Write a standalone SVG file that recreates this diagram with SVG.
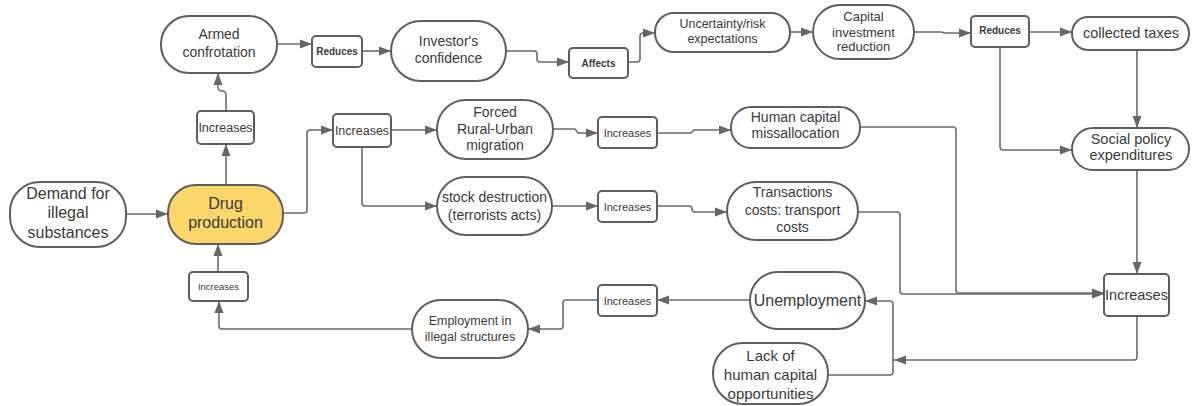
<svg xmlns="http://www.w3.org/2000/svg" width="1193" height="406" viewBox="0 0 1193 406">
<style>
.n{fill:#fff;stroke:#5e5e5e;stroke-width:2}
.y{fill:#FBD66A}
.t{font-family:"Liberation Sans",Arial,sans-serif;fill:#3a3a3a;text-anchor:middle}
.b{font-weight:bold}
.c{fill:none;stroke:#6b6b6b;stroke-width:1.6;marker-end:url(#a)}
</style>
<defs>
<marker id="a" viewBox="0 0 12 10" refX="12" refY="5" markerWidth="12" markerHeight="10" markerUnits="userSpaceOnUse" orient="auto">
<path d="M0,0.5 L12,5 L0,9.5 z" fill="#666"/>
</marker>
</defs>
<rect width="1193" height="406" fill="#fff"/>
<g id="connectors">
<path class="c" d="M126,214 H168"/>
<path class="c" d="M226,185 V144"/>
<path class="c" d="M226,111 V95 Q226,91 222,91 Q218,91 218,87 V73"/>
<path class="c" d="M277,44 H312"/>
<path class="c" d="M362,51 H391"/>
<path class="c" d="M506,51 H534 Q537,51 537,54 V59 Q537,62 540,62 H569"/>
<path class="c" d="M628,62 H637 Q640,62 640,59 V36 Q640,33 643,33 H655"/>
<path class="c" d="M790,32 H813"/>
<path class="c" d="M914,32 H942 L944,33 H971"/>
<path class="c" d="M1029,32 H1072"/>
<path class="c" d="M1000,47 V147 Q1000,150 1003,150 H1072"/>
<path class="c" d="M1137,50 V128"/>
<path class="c" d="M1137,170 V274"/>
<path class="c" d="M283,213 H304 Q307,213 307,210 V133 Q307,130 310,130 H333"/>
<path class="c" d="M391,130 H437"/>
<path class="c" d="M362,147 V203 Q362,206 365,206 H437"/>
<path class="c" d="M553,129 H575 L578,133 H598"/>
<path class="c" d="M657,133 H691 L694,130 H731"/>
<path class="c" d="M552,206 H598"/>
<path class="c" d="M657,206 H689 Q692,206 692,209 Q692,212 695,212 H727"/>
<path class="c" d="M860,127 H953 Q956,127 956,130 V290 Q956,293 959,293 H1104"/>
<path class="c" d="M858,212 H897 Q900,212 900,215 V291 Q900,294 903,294 H1104"/>
<path class="c" d="M1137,316 V357 Q1137,360 1134,360 H894"/>
<path class="c" d="M828,375 H890 Q893,375 893,372 V304 Q893,301 890,301 H865"/>
<path class="c" d="M750,300 H657"/>
<path class="c" d="M598,300 H566 Q563,300 563,303 V326 Q563,329 560,329 H528"/>
<path class="c" d="M412,329 H222 Q219,329 219,326 V301"/>
<path class="c" d="M218,272 V244"/>
</g>
<g id="armed"><rect class="n" x="161" y="16" width="116" height="57" rx="28"/><text class="t" font-size="14" x="219" y="39">Armed</text><text class="t" font-size="14" x="219" y="57">confrotation</text></g>
<g id="reduces1"><rect class="n" x="312" y="36" width="50" height="31" rx="4"/><text class="t b" font-size="10" x="337" y="55">Reduces</text></g>
<g id="investor"><rect class="n" x="391" y="21" width="115" height="60" rx="30"/><text class="t" font-size="14" x="448.5" y="46">Investor's</text><text class="t" font-size="14" x="448.5" y="63">confidence</text></g>
<g id="affects"><rect class="n" x="569" y="48" width="59" height="30" rx="4"/><text class="t b" font-size="10" x="598.5" y="66.5">Affects</text></g>
<g id="uncertainty"><rect class="n" x="655" y="13" width="135" height="39" rx="19"/><text class="t" font-size="12.5" x="722.5" y="27.5">Uncertainty/risk</text><text class="t" font-size="12.5" x="722.5" y="42.5">expectations</text></g>
<g id="capital"><rect class="n" x="813" y="5" width="101" height="54" rx="27"/><text class="t" font-size="13" x="863.5" y="20.5">Capital</text><text class="t" font-size="13" x="863.5" y="36.5">investment</text><text class="t" font-size="13" x="863.5" y="50.5">reduction</text></g>
<g id="reduces2"><rect class="n" x="971" y="16" width="58" height="31" rx="4"/><text class="t b" font-size="10" x="1000" y="34">Reduces</text></g>
<g id="taxes"><rect class="n" x="1072" y="17" width="117" height="33" rx="16"/><text class="t" font-size="14.5" x="1131" y="38">collected taxes</text></g>
<g id="social"><rect class="n" x="1072" y="128" width="117" height="42" rx="21"/><text class="t" font-size="14.5" x="1131" y="144">Social policy</text><text class="t" font-size="14.5" x="1131" y="160">expenditures</text></g>
<g id="demand"><rect class="n" x="10" y="182" width="116" height="65" rx="30"/><text class="t" font-size="16" x="68" y="199">Demand for</text><text class="t" font-size="16" x="68" y="218">illegal</text><text class="t" font-size="16" x="68" y="238">substances</text></g>
<g id="drug"><rect class="n y" x="168" y="185" width="115" height="59" rx="28"/><text class="t" font-size="16" x="225.5" y="209">Drug</text><text class="t" font-size="16" x="225.5" y="228">production</text></g>
<g id="inc-up"><rect class="n" x="197" y="111" width="57" height="33" rx="4"/><text class="t" font-size="12.5" x="225.5" y="132">Increases</text></g>
<g id="inc-mid"><rect class="n" x="333" y="114" width="58" height="33" rx="4"/><text class="t" font-size="12.5" x="362" y="135">Increases</text></g>
<g id="forced"><rect class="n" x="437" y="100" width="116" height="59" rx="29"/><text class="t" font-size="14" x="495" y="117">Forced</text><text class="t" font-size="14" x="495" y="134">Rural-Urban</text><text class="t" font-size="14" x="495" y="150">migration</text></g>
<g id="stock"><rect class="n" x="437" y="177" width="115" height="58" rx="29"/><text class="t" font-size="14" x="494.5" y="202">stock destruction</text><text class="t" font-size="14" x="494.5" y="220">(terrorists acts)</text></g>
<g id="inc-h"><rect class="n" x="598" y="117" width="59" height="31" rx="4"/><text class="t" font-size="11" x="627.5" y="136.5">Increases</text></g>
<g id="inc-s"><rect class="n" x="598" y="191" width="59" height="31" rx="4"/><text class="t" font-size="11" x="627.5" y="210.5">Increases</text></g>
<g id="human"><rect class="n" x="731" y="107" width="129" height="41" rx="20"/><text class="t" font-size="14" x="795.5" y="122">Human capital</text><text class="t" font-size="14" x="795.5" y="138">missallocation</text></g>
<g id="trans"><rect class="n" x="727" y="182" width="131" height="58" rx="29"/><text class="t" font-size="14" x="792.5" y="197">Transactions</text><text class="t" font-size="14" x="792.5" y="215">costs: transport</text><text class="t" font-size="14" x="792.5" y="232">costs</text></g>
<g id="inc-big"><rect class="n" x="1104" y="274" width="65" height="42" rx="4"/><text class="t" font-size="14.5" x="1136.5" y="300">Increases</text></g>
<g id="unemp"><rect class="n" x="750" y="272" width="115" height="57" rx="28"/><text class="t" font-size="16" x="807.5" y="305.5">Unemployment</text></g>
<g id="lack"><rect class="n" x="713" y="343" width="115" height="61" rx="30"/><text class="t" font-size="15" x="770.5" y="360.5">Lack of</text><text class="t" font-size="15" x="770.5" y="379.5">human capital</text><text class="t" font-size="15" x="770.5" y="398.5">opportunities</text></g>
<g id="inc-u"><rect class="n" x="598" y="285" width="59" height="31" rx="4"/><text class="t" font-size="11" x="627.5" y="304.5">Increases</text></g>
<g id="employ"><rect class="n" x="412" y="300" width="116" height="58" rx="29"/><text class="t" font-size="12.5" x="470" y="324.5">Employment in</text><text class="t" font-size="12.5" x="470" y="340.5">illegal structures</text></g>
<g id="inc-bl"><rect class="n" x="189" y="272" width="59" height="29" rx="4"/><text class="t" font-size="9.5" x="218.5" y="290">Increases</text></g>
</svg>
